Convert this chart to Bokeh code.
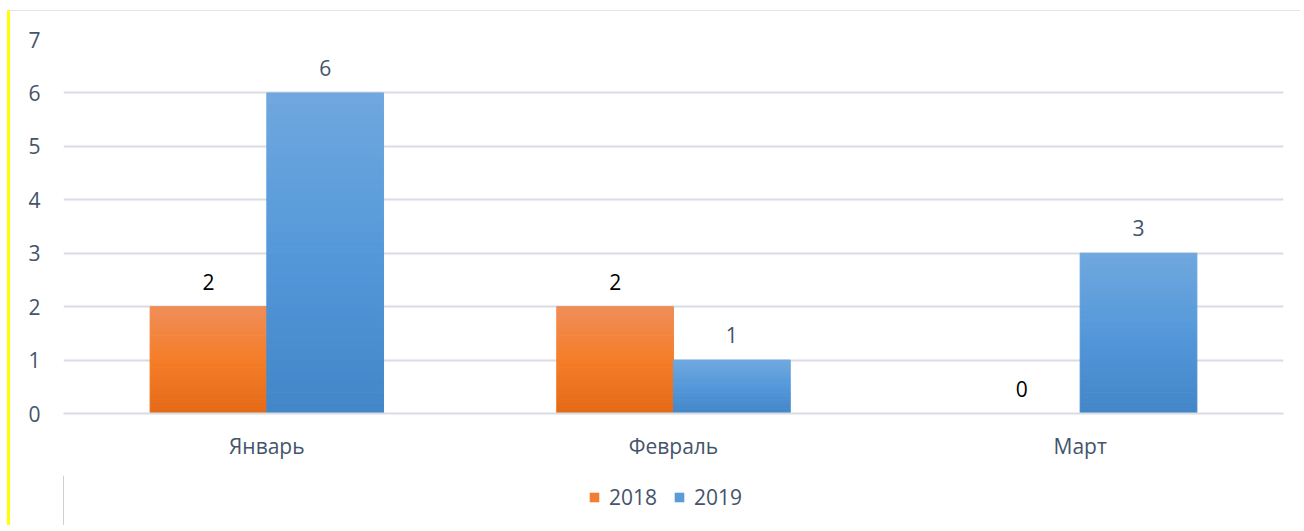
from bokeh.plotting import figure
from bokeh.layouts import column
from bokeh.models import (ColumnDataSource, FactorRange, Range1d, Legend, LegendItem,
                          FixedTicker)
from bokeh.transform import dodge
from bokeh.core.properties import value
from bokeh.embed import file_html
from bokeh.resources import INLINE

months = ["Январь", "Февраль", "Март"]
series_names = ["2018", "2019"]
values_2018 = [2, 2, 0]
values_2019 = [6, 1, 3]
y_ticks = [0, 1, 2, 3, 4, 5, 6, 7]

FONT = "Open Sans"
FS = "21px"
AXIS_COLOR = "#44546A"
GRID_COLOR = "#D9DCE3"

# gradient colours (top -> bottom)
orange_top, orange_mid, orange_bot = (240, 142, 88), (245, 125, 40), (228, 106, 24)
blue_top, blue_mid, blue_bot = (112, 168, 222), (84, 152, 218), (66, 134, 200)


def lerp(c1, c2, t):
    return tuple(int(round(a + (b - a) * t)) for a, b in zip(c1, c2))


def grad(t, top, mid, bot):
    if t < 0.5:
        c = lerp(bot, mid, t / 0.5)
    else:
        c = lerp(mid, top, (t - 0.5) / 0.5)
    return "#%02x%02x%02x" % c


def slices(vals, top, mid, bot, n=30):
    xs, b, t, cols = [], [], [], []
    for m, v in zip(months, vals):
        if v <= 0:
            continue
        for i in range(n):
            xs.append(m)
            b.append(v * i / n)
            t.append(v * (i + 1) / n)
            cols.append(grad((i + 0.5) / n, top, mid, bot))
    return ColumnDataSource(dict(x=xs, bottom=b, top=t, color=cols))


p = figure(width=1290, height=464, x_range=FactorRange(*months, range_padding=0),
           y_range=Range1d(0, 7), output_backend="svg", toolbar_location=None,
           min_border_left=53, min_border_right=17, min_border_top=28, min_border_bottom=62)
p.outline_line_color = None
p.background_fill_color = "white"
p.border_fill_color = "white"

W = 0.287
src18 = slices(values_2018, orange_top, orange_mid, orange_bot)
src19 = slices(values_2019, blue_top, blue_mid, blue_bot)
p.vbar(x=dodge("x", -W / 2, range=p.x_range), bottom="bottom", top="top", width=W,
       fill_color="color", line_color="color", line_width=1, source=src18)
p.vbar(x=dodge("x", W / 2, range=p.x_range), bottom="bottom", top="top", width=W,
       fill_color="color", line_color="color", line_width=1, source=src19)

lab18 = ColumnDataSource(dict(x=months, y=values_2018, t=[str(v) for v in values_2018]))
lab19 = ColumnDataSource(dict(x=months, y=values_2019, t=[str(v) for v in values_2019]))
p.text(x=dodge("x", -W / 2, range=p.x_range), y="y", text="t", source=lab18,
       text_align="center", text_baseline="middle", y_offset=-25,
       text_font=value(FONT), text_font_size=FS, text_color="#000000")
p.text(x=dodge("x", W / 2, range=p.x_range), y="y", text="t", source=lab19,
       text_align="center", text_baseline="middle", y_offset=-25,
       text_font=value(FONT), text_font_size=FS, text_color=AXIS_COLOR)

p.yaxis.ticker = FixedTicker(ticks=y_ticks)
p.yaxis.axis_line_color = None
p.yaxis.major_tick_line_color = None
p.yaxis.minor_tick_line_color = None
p.yaxis.major_label_text_font = FONT
p.yaxis.major_label_text_font_size = FS
p.yaxis.major_label_text_color = AXIS_COLOR
p.yaxis.major_label_standoff = 17

p.xaxis.axis_line_color = GRID_COLOR
p.xaxis.axis_line_width = 2
p.xaxis.major_tick_line_color = None
p.xaxis.minor_tick_line_color = None
p.xaxis.major_label_text_font = FONT
p.xaxis.major_label_text_font_size = FS
p.xaxis.major_label_text_color = AXIS_COLOR
p.xaxis.major_label_standoff = 12

p.xgrid.grid_line_color = None
p.ygrid.grid_line_color = GRID_COLOR
p.ygrid.grid_line_width = 2

# legend strip
lg = figure(width=1290, height=50, x_range=Range1d(0, 1), y_range=Range1d(0, 1),
            x_axis_type=None, y_axis_type=None,
            output_backend="svg", toolbar_location=None,
            min_border_left=53, min_border_right=17, min_border_top=0, min_border_bottom=0)
lg.grid.visible = False
lg.outline_line_color = None
lg.background_fill_color = None
lg.border_fill_color = "white"
l18 = lg.vbar(x=[-10], top=[1], width=0.1, fill_color="#F27E33", line_color=None)
l19 = lg.vbar(x=[-10], top=[1], width=0.1, fill_color="#5A9BD8", line_color=None)
legend = Legend(items=[LegendItem(label=series_names[0], renderers=[l18]),
                       LegendItem(label=series_names[1], renderers=[l19])],
                orientation="horizontal", location=(525, 14),
                label_text_font=FONT, label_text_font_size=FS,
                label_text_color=AXIS_COLOR, glyph_width=12, glyph_height=12,
                spacing=16, label_standoff=9, border_line_color=None,
                background_fill_alpha=0, margin=0, padding=0)
lg.add_layout(legend, "center")

layout = column(p, lg, spacing=0)
layout.styles = {"margin-left": "7px", "margin-top": "10px",
                 "border-left": "3px solid #FFFF00", "border-top": "1px solid #E3E3EA"}

open("out.html", "w").write(file_html(layout, INLINE))
